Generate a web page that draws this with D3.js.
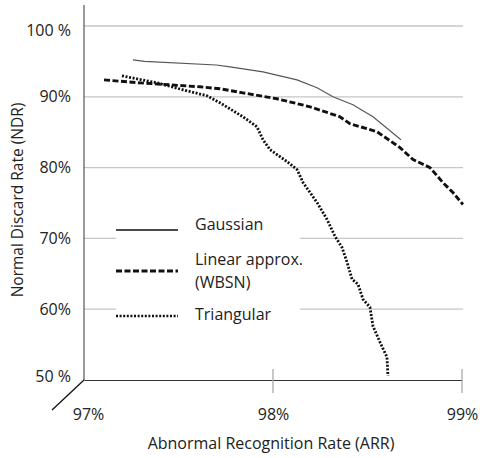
<!DOCTYPE html>
<html><head><meta charset="utf-8">
<script src="https://cdn.jsdelivr.net/npm/d3@7"></script>
<style>
body{margin:0;background:#fff;}
text{font-family:"Open Sans",sans-serif;fill:#222;}
</style></head>
<body><svg id="c" width="483" height="458"></svg>
<script>
const xTicks = [97, 98, 99];
const xTickLabels = ["97%", "98%", "99%"];
const yTicks = [50, 60, 70, 80, 90, 100];
const yTickLabels = ["50 %", "60%", "70%", "80%", "90%", "100 %"];
const seriesNames = ["Gaussian", "Linear approx.", "Triangular"];

const gaussianARR = [97.259, 97.32, 97.70, 97.772, 97.947, 98.127, 98.233, 98.317, 98.423, 98.529, 98.677];
const gaussianNDR = [95.21, 95.0, 94.5, 94.23, 93.52, 92.39, 91.27, 90.0, 88.87, 87.18, 83.94];

const linearARR = [97.106, 97.296, 97.455, 97.614, 97.720, 97.841, 98.021, 98.196, 98.354, 98.407, 98.550, 98.672, 98.741, 98.831, 98.899, 98.952, 99.005];
const linearNDR = [92.39, 91.97, 91.69, 91.41, 91.13, 90.56, 89.72, 88.59, 87.18, 86.2, 85.07, 82.82, 81.13, 80.0, 77.89, 76.48, 74.79];

const triARR = [97.201, 97.386, 97.524, 97.651, 97.720, 97.841, 97.915, 97.947, 97.984, 98.074, 98.127, 98.159, 98.233, 98.286, 98.328, 98.365, 98.392, 98.418, 98.450, 98.476, 98.513, 98.529, 98.566, 98.603, 98.608];
const triNDR = [92.96, 91.97, 90.99, 90.14, 89.15, 87.18, 85.77, 83.94, 82.54, 80.85, 79.72, 77.89, 75.07, 72.68, 70.28, 68.73, 66.62, 64.23, 63.52, 61.41, 60.28, 57.61, 55.35, 53.24, 50.56];

const FS = "16px";
const svg = d3.select("#c");
const x = d3.scaleLinear().domain([97, 99]).range([84, 462]);
const y = d3.scaleLinear().domain([50, 100]).range([380, 26]);

// gridlines
svg.append("g").selectAll("line").data(yTicks.filter(d => d > 50)).join("line")
  .attr("x1", x(97)).attr("x2", x(99) + 1)
  .attr("y1", d => y(d)).attr("y2", d => y(d))
  .attr("stroke", "#c6c6c6").attr("stroke-width", 1.3);

// y axis labels
const yAxis = d3.axisLeft(y).tickValues(yTicks).tickSize(0).tickPadding(13)
  .tickFormat((d, i) => yTickLabels[i]);
const gy = svg.append("g").attr("transform", `translate(${x(97)},0)`).call(yAxis);
gy.select(".domain").remove();
gy.selectAll("text").style("font-size", FS).style("font-family", "Open Sans").style("fill", "#222");
gy.selectAll(".tick").filter(d => d === 100).select("text").attr("dy", "0.62em");
gy.selectAll(".tick").filter(d => d === 50).select("text").attr("dy", "0.12em");

// y axis line
svg.append("line").attr("x1", x(97)).attr("x2", x(97)).attr("y1", 5).attr("y2", y(50))
  .attr("stroke", "#555").attr("stroke-width", 1.2);

// x axis
const xAxis = d3.axisBottom(x).tickValues(xTicks).tickSize(0).tickPadding(29)
  .tickFormat((d, i) => xTickLabels[i]);
const gx = svg.append("g").attr("transform", `translate(0,${y(50)})`).call(xAxis);
gx.select(".domain").attr("stroke", "#333").attr("stroke-width", 1.2);
gx.selectAll("text").style("font-size", FS).style("font-family", "Open Sans").style("fill", "#222");
gx.selectAll(".tick").filter(d => d === 97).select("text").attr("dx", 4);
// tick marks on 98, 99
svg.append("g").selectAll("line").data(xTicks.filter(d => d > 97)).join("line")
  .attr("x1", d => x(d)).attr("x2", d => x(d))
  .attr("y1", y(50) - 11).attr("y2", y(50) + 13)
  .attr("stroke", "#aaa").attr("stroke-width", 1.3);
// diagonal at origin
svg.append("line").attr("x1", x(97)).attr("y1", y(50)).attr("x2", x(97) - 32).attr("y2", y(50) + 30)
  .attr("stroke", "#111").attr("stroke-width", 1.3);

// axis titles
svg.append("text").attr("x", 271).attr("y", 449).attr("text-anchor", "middle")
  .style("font-size", FS).text("Abnormal Recognition Rate (ARR)");
svg.append("text").attr("transform", "translate(23,200) rotate(-90)").attr("text-anchor", "middle")
  .style("font-size", "15.5px").text("Normal Discard Rate (NDR)");

// lines
const line = d3.line().x(d => x(d[0])).y(d => y(d[1])).curve(d3.curveLinear);
const gData = gaussianARR.map((v, i) => [v, gaussianNDR[i]]);
const lData = linearARR.map((v, i) => [v, linearNDR[i]]);
const tData = triARR.map((v, i) => [v, triNDR[i]]);

svg.append("path").datum(tData).attr("d", line).attr("fill", "none")
  .attr("stroke", "#111").attr("stroke-width", 2.8).attr("stroke-dasharray", "2,1.6");
svg.append("path").datum(lData).attr("d", line).attr("fill", "none")
  .attr("stroke", "#111").attr("stroke-width", 2.9).attr("stroke-dasharray", "6,2.5");
svg.append("path").datum(gData).attr("d", line).attr("fill", "none")
  .attr("stroke", "#555").attr("stroke-width", 1.1);

// legend
const lg = svg.append("g");
lg.append("rect").attr("x", 116).attr("y", 212).attr("width", 184).attr("height", 118).attr("fill", "#fff");
const legY = [230, 271, 316];
const dashes = [null, "6,2.5", "2,1.6"];
const widths = [1.6, 2.8, 2.4];
seriesNames.forEach((n, i) => {
  lg.append("line").attr("x1", 116).attr("x2", 178).attr("y1", legY[i]).attr("y2", legY[i])
    .attr("stroke", "#111").attr("stroke-width", widths[i])
    .attr("stroke-dasharray", dashes[i]);
});
lg.append("text").attr("x", 195).attr("y", 230).style("font-size", FS).text(seriesNames[0]);
lg.append("text").attr("x", 195).attr("y", 265).style("font-size", FS).text(seriesNames[1]);
lg.append("text").attr("x", 195).attr("y", 288).style("font-size", FS).text("(WBSN)");
lg.append("text").attr("x", 195).attr("y", 320).style("font-size", FS).text(seriesNames[2]);
</script></body></html>
